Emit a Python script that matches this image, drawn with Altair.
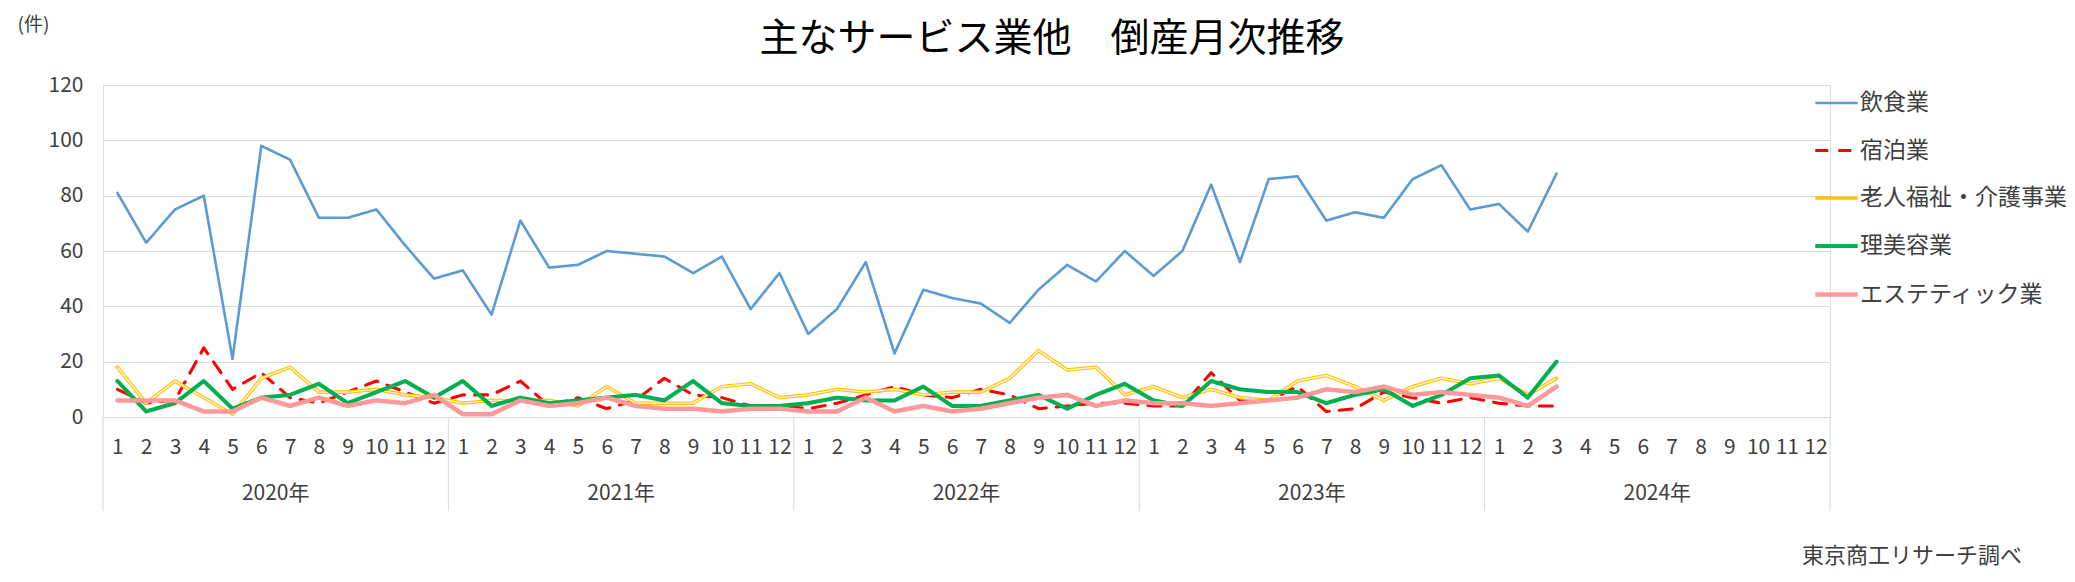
import altair as alt
import pandas as pd

FONT = "Noto Sans CJK JP"

title_text = "主なサービス業他　倒産月次推移"
unit_text = "(件)"
source_text = "東京商工リサーチ調べ"

years = ["2020年", "2021年", "2022年", "2023年", "2024年"]
months = list(range(1, 13))
series_names = ["飲食業", "宿泊業", "老人福祉・介護事業", "理美容業", "エステティック業"]
series_colors = ["#5B9BD5", "#FF0000", "#FFC000", "#00B050", "#FF9999"]
y_ticks = [0, 20, 40, 60, 80, 100, 120]

food = [81, 63, 75, 80, 21, 98, 93, 72, 72, 75, 62, 50,
        53, 37, 71, 54, 55, 60, 59, 58, 52, 58, 39, 52,
        30, 39, 56, 23, 46, 43, 41, 34, 46, 55, 49, 60,
        51, 60, 84, 56, 86, 87, 71, 74, 72, 86, 91, 75,
        77, 67, 88]
lodging = [10, 5, 6, 25, 10, 16, 7, 5, 9, 13, 9, 5,
           8, 8, 13, 4, 7, 3, 6, 14, 8, 7, 4, 4,
           3, 5, 8, 11, 8, 7, 10, 8, 3, 4, 5, 5,
           4, 4, 16, 6, 6, 11, 2, 3, 9, 7, 5, 7,
           5, 4, 4]
care = [18, 5, 13, 7, 1, 14, 18, 9, 9, 10, 8, 7,
        5, 6, 6, 6, 4, 11, 5, 5, 5, 11, 12, 7,
        8, 10, 9, 10, 8, 9, 9, 14, 24, 17, 18, 8,
        11, 7, 10, 7, 6, 13, 15, 11, 6, 11, 14, 12,
        14, 8, 14]
beauty = [13, 2, 5, 13, 3, 7, 8, 12, 5, 9, 13, 7,
          13, 4, 7, 5, 6, 7, 8, 6, 13, 5, 4, 4,
          5, 7, 6, 6, 11, 4, 4, 6, 8, 3, 8, 12,
          6, 4, 13, 10, 9, 9, 5, 8, 10, 4, 8, 14,
          15, 7, 20]
esthetic = [6, 6, 6, 2, 2, 7, 4, 7, 4, 6, 5, 8,
            1, 1, 6, 4, 5, 7, 4, 3, 3, 2, 3, 3,
            2, 2, 7, 2, 4, 2, 3, 5, 7, 8, 4, 6,
            5, 5, 4, 5, 6, 7, 10, 9, 11, 8, 9, 8,
            7, 4, 11]

all_series = [food, lodging, care, beauty, esthetic]

rows = []
for name, vals in zip(series_names, all_series):
    for i, v in enumerate(vals):
        rows.append({"series": name, "idx": i + 0.5, "value": v})
df = pd.DataFrame(rows)

n_cat = len(years) * len(months)
year_df = pd.DataFrame({"year": years,
                        "mid": [k * 12 + 6 for k in range(len(years))]})
sep_df = pd.DataFrame({"b": [k * 12 for k in range(len(years) + 1)]})

W, H = 1727, 332

x_scale = alt.Scale(domain=[0, n_cat], nice=False, zero=False)
y_scale = alt.Scale(domain=[0, 120], nice=False)

x_axis = alt.Axis(
    values=[i + 0.5 for i in range(n_cat)],
    labelExpr="floor(datum.value) % 12 + 1",
    grid=False, ticks=False, domain=True, domainColor="#d9d9d9",
    labelFont=FONT, labelFontSize=21, labelColor="#404040",
    labelOverlap=False, labelFlush=False, labelBound=False,
    labelBaseline="middle", labelPadding=30, title=None,
)
y_axis = alt.Axis(
    values=y_ticks, grid=True, gridColor="#d9d9d9", domain=False,
    ticks=False, labelFont=FONT, labelFontSize=21,
    labelColor="#404040", labelPadding=20,
    title=unit_text, titleAngle=0, titleX=-86, titleY=-61,
    titleAlign="left", titleBaseline="middle", titleFont=FONT,
    titleFontSize=19, titleFontWeight="normal", titleColor="#404040",
)

color_enc = alt.Color(
    "series:N",
    scale=alt.Scale(domain=series_names, range=series_colors),
    sort=series_names,
    legend=alt.Legend(
        title=None, orient="none", legendX=1710, legendY=-5,
        symbolType="stroke", symbolSize=1800, labelFont=FONT,
        labelFontSize=23, labelColor="#404040", rowPadding=12.5,
        labelOffset=0, labelLimit=400,
    ),
)
dash_enc = alt.StrokeDash(
    "series:N",
    scale=alt.Scale(domain=series_names,
                    range=[[1, 0], [13, 10], [1, 0], [1, 0], [1, 0]]),
    sort=series_names, legend=None,
)
width_enc = alt.StrokeWidth(
    "series:N",
    scale=alt.Scale(domain=series_names, range=[2.6, 4.5, 4.6, 4.2, 4.2]),
    sort=series_names, legend=None,
)

x_enc = alt.X("idx:Q", scale=x_scale, axis=x_axis)
y_enc = alt.Y("value:Q", scale=y_scale, axis=y_axis)

layers = []
for name in series_names:
    sub = df[df["series"] == name]
    layers.append(
        alt.Chart(sub).mark_line(strokeCap="round", strokeJoin="round").encode(
            x=x_enc, y=y_enc, color=color_enc, strokeDash=dash_enc,
            strokeWidth=width_enc,
        )
    )
    if name == "老人福祉・介護事業":
        layers.append(
            alt.Chart(sub).mark_line(strokeJoin="round").encode(
                x=x_enc, y=y_enc,
                color=alt.value("#FFF4D0"), strokeWidth=alt.value(1.4),
            )
        )

sep = alt.Chart(sep_df).mark_rule(color="#d9d9d9", strokeWidth=1).encode(
    x=alt.X("b:Q", scale=x_scale, axis=x_axis), y=alt.value(H), y2=alt.value(H + 94)
)
year_text = alt.Chart(year_df).mark_text(
    font=FONT, fontSize=21, color="#404040", baseline="middle"
).encode(x=alt.X("mid:Q", scale=x_scale, axis=x_axis), y=alt.value(H + 77), text="year:N")

src = alt.Chart(pd.DataFrame({"t": [source_text]})).mark_text(
    font=FONT, fontSize=22, color="#404040", align="left", baseline="middle"
).encode(x=alt.value(1699), y=alt.value(471), text="t:N")

ttl = alt.Chart(pd.DataFrame({"t": [title_text]})).mark_text(
    font=FONT, fontSize=39, color="#000000", align="center", baseline="middle"
).encode(x=alt.value(949), y=alt.value(-46), text="t:N")

chart = alt.layer(*layers, sep, year_text, src, ttl).properties(
    width=W, height=H,
    padding={"left": 103, "top": 85, "right": 245, "bottom": 165},
    autosize=alt.AutoSizeParams(type="none"),
).configure_view(stroke=None).configure(background="white")

chart.save("out.html", embed_options={"renderer": "svg", "actions": False})
